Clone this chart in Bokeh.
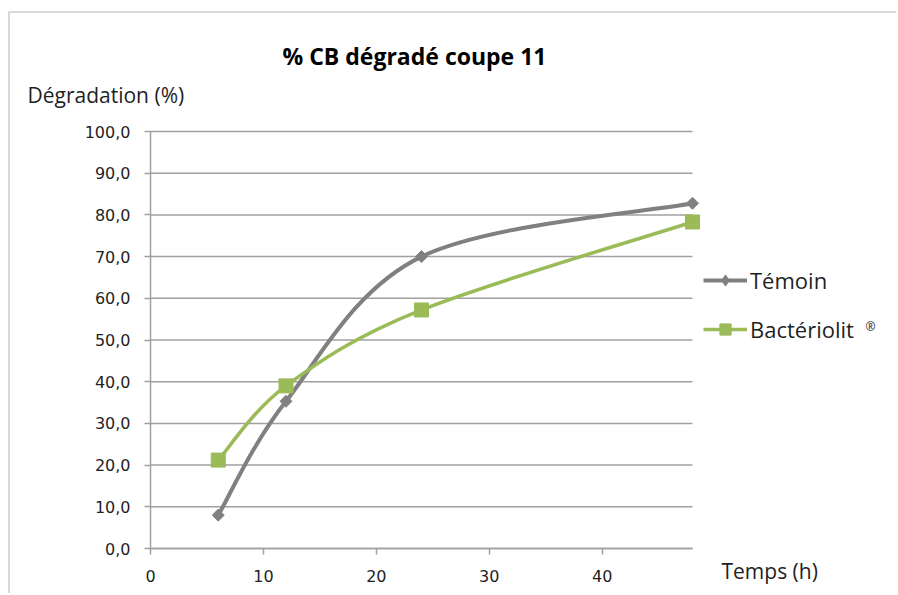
from bokeh.plotting import figure
from bokeh.models import (Range1d, ColumnDataSource, Legend, LegendItem, Label,
                          FixedTicker, BoxAnnotation)
from bokeh.embed import file_html
from bokeh.resources import INLINE
import numpy as np

# ---- data ----
hours = [6, 12, 24, 48]
temoin = [8.0, 35.3, 70.0, 82.8]
bacteriolit = [21.2, 39.0, 57.2, 78.3]
series_names = ["Témoin", "Bactériolit"]
x_ticks = [0, 10, 20, 30, 40]
y_ticks = [0, 10, 20, 30, 40, 50, 60, 70, 80, 90, 100]
y_tick_labels = ["0,0", "10,0", "20,0", "30,0", "40,0", "50,0", "60,0",
                 "70,0", "80,0", "90,0", "100,0"]
x_axis_max = 48
y_axis_max = 100
title_text = "% CB dégradé coupe 11"
y_label_text = "Dégradation (%)"
x_label_text = "Temps (h)"

# ---- layout (pixels on the canvas) ----
W, H = 896, 593
PL, PR, PT, PB = 150, 692, 131, 548      # plot-area box

GRAY_SERIES = "#808080"
GREEN_SERIES = "#9bbb59"
GRID = "#a0a0a0"
TXT = "#1f1f1f"
FONT = "Open Sans"

xpx = (PR - PL) / x_axis_max
ypx = (PB - PT) / y_axis_max
x_range = Range1d(-PL / xpx, (W - PL) / xpx)
y_range = Range1d(-(H - PB) / ypx, PB / ypx)


def sy(page_y):
    return H - page_y


def smooth_segments(xs, ys):
    """Bezier control points (Catmull-Rom style) from the data points."""
    n = len(xs)
    P = list(zip(xs, ys))
    d = dict(x0=[], y0=[], x1=[], y1=[], cx0=[], cy0=[], cx1=[], cy1=[])
    for i in range(n - 1):
        p0 = P[i - 1] if i > 0 else P[i]
        p1 = P[i]
        p2 = P[i + 1]
        p3 = P[i + 2] if i + 2 < n else P[i + 1]
        d["x0"].append(p1[0]); d["y0"].append(p1[1])
        d["x1"].append(p2[0]); d["y1"].append(p2[1])
        d["cx0"].append(p1[0] + (p2[0] - p0[0]) / 6.0)
        d["cy0"].append(p1[1] + (p2[1] - p0[1]) / 6.0)
        d["cx1"].append(p2[0] - (p3[0] - p1[0]) / 6.0)
        d["cy1"].append(p2[1] - (p3[1] - p1[1]) / 6.0)
    return ColumnDataSource(d)


p = figure(width=W, height=H, output_backend="svg", toolbar_location=None,
           x_range=x_range, y_range=y_range,
           min_border=0, min_border_left=0, min_border_right=0,
           min_border_top=0, min_border_bottom=0)
p.title = None
p.outline_line_color = None
p.background_fill_color = "white"
p.border_fill_color = "white"
p.xgrid.visible = False
p.ygrid.visible = False

# chart border
p.add_layout(BoxAnnotation(left=8.5, right=W + 20, top=sy(11.5), bottom=-20,
                           left_units="screen", right_units="screen",
                           top_units="screen", bottom_units="screen",
                           fill_alpha=0, line_color="#808080", line_width=2,
                           level="underlay"))

# horizontal gridlines
n = len(y_ticks)
p.segment(x0=[0] * n, x1=[x_axis_max] * n, y0=y_ticks, y1=y_ticks,
          line_color=GRID, line_width=1.5)

# axes
for ax in (p.xaxis[0], p.yaxis[0]):
    ax.fixed_location = 0
    ax.axis_line_color = GRID
    ax.axis_line_width = 1.5
    ax.major_tick_line_color = GRID
    ax.major_tick_line_width = 1.5
    ax.major_tick_in = 0
    ax.major_tick_out = 6
    ax.minor_tick_line_color = None
    ax.major_label_text_font = "DejaVu Sans"
    ax.major_label_text_font_size = "16px"
    ax.major_label_text_color = TXT
p.xaxis[0].bounds = (0, x_axis_max)
p.yaxis[0].bounds = (0, y_axis_max)
p.xaxis[0].ticker = FixedTicker(ticks=x_ticks)
p.yaxis[0].ticker = FixedTicker(ticks=y_ticks)
p.yaxis[0].major_label_overrides = {t: l for t, l in zip(y_ticks, y_tick_labels)}
p.xaxis[0].major_label_standoff = 15
p.yaxis[0].major_label_standoff = 14

# series
src_t = smooth_segments(hours, temoin)
src_b = smooth_segments(hours, bacteriolit)
bz_t = p.bezier(x0="x0", y0="y0", x1="x1", y1="y1", cx0="cx0", cy0="cy0",
                cx1="cx1", cy1="cy1", source=src_t, line_color=GRAY_SERIES,
                line_width=4)
bz_b = p.bezier(x0="x0", y0="y0", x1="x1", y1="y1", cx0="cx0", cy0="cy0",
                cx1="cx1", cy1="cy1", source=src_b, line_color=GREEN_SERIES,
                line_width=3.5)
# diamond glyph used for the legend (hidden beneath the rotated squares)
lg_t = p.scatter(hours, temoin, marker="diamond", size=10,
                 fill_color=GRAY_SERIES, line_color=GRAY_SERIES)
mk_t = p.scatter(hours, temoin, marker="square", angle=np.pi / 4, size=8.5,
                 fill_color=GRAY_SERIES, line_color=GRAY_SERIES)
mk_b = p.scatter(hours, bacteriolit, marker="square", size=14,
                 fill_color=GREEN_SERIES, line_color=GREEN_SERIES)

legend = Legend(items=[LegendItem(label=series_names[0], renderers=[bz_t, lg_t]),
                       LegendItem(label=series_names[1], renderers=[bz_b, mk_b])],
                location=(703, sy(344)), orientation="vertical",
                glyph_width=44, glyph_height=28, label_height=28,
                label_standoff=3, spacing=19, padding=0, margin=0,
                border_line_color=None, background_fill_alpha=0,
                label_text_font=FONT, label_text_font_size="22px",
                label_text_color=TXT)
p.add_layout(legend, "center")

# texts
p.add_layout(Label(x=414, y=sy(55), x_units="screen", y_units="screen",
                   text=title_text, text_font=FONT, text_font_style="bold",
                   text_font_size="23px", text_align="center",
                   text_baseline="middle", text_color="black"))
p.add_layout(Label(x=27, y=sy(94), x_units="screen", y_units="screen",
                   text=y_label_text, text_font=FONT, text_font_size="21px",
                   text_align="left", text_baseline="middle", text_color=TXT))
p.add_layout(Label(x=721, y=sy(570), x_units="screen", y_units="screen",
                   text=x_label_text, text_font=FONT, text_font_size="21px",
                   text_align="left", text_baseline="middle", text_color=TXT))
p.add_layout(Label(x=870, y=sy(326), x_units="screen", y_units="screen",
                   text="®", text_font=FONT, text_font_size="12px",
                   text_align="center", text_baseline="middle", text_color=TXT))

open("out.html", "w").write(file_html(p, INLINE))
